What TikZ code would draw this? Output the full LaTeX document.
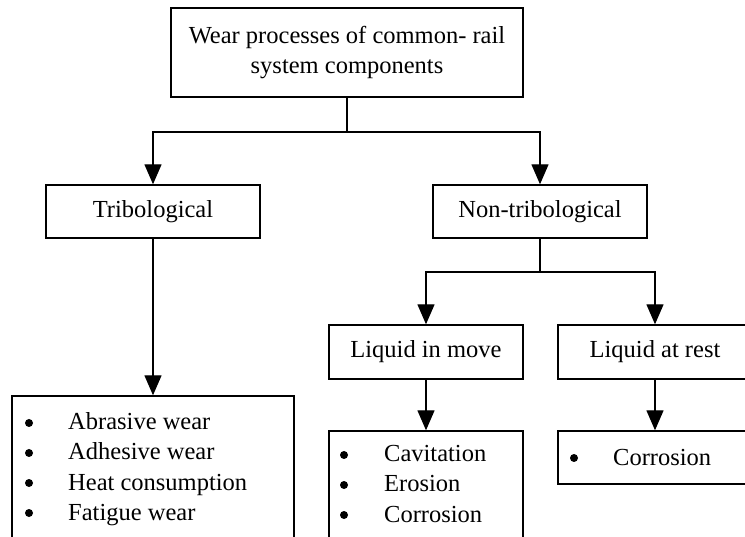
\documentclass[tikz,border=0pt]{standalone}
\usepackage{fontspec}
\setmainfont{Liberation Serif}
\usetikzlibrary{arrows.meta}
\begin{document}
\begin{tikzpicture}[x=1pt,y=-1pt,
  box/.style={draw,line width=1.4pt,rectangle,inner sep=0pt,font=\fontsize{24.5}{29.5}\selectfont,align=center},
  itm/.style={anchor=base west,inner sep=0pt,font=\fontsize{24.5}{29.5}\selectfont},
  bul/.style={circle,fill=black,inner sep=0pt,minimum size=8pt},
  arr/.style={line width=1.4pt,-{Triangle[length=20pt,width=17pt]}},
  ln/.style={line width=1.4pt}]
\useasboundingbox (0,0) rectangle (745,537);
\node[box,minimum width=352pt,minimum height=89pt] (top) at (347,52.5) {Wear processes of common- rail\\system components};
\node[box,minimum width=214pt,minimum height=53pt] (trib) at (153,211.5) {Tribological};
\node[box,minimum width=214pt,minimum height=53pt] (non) at (540,211.5) {Non-tribological};
\node[box,minimum width=282pt,minimum height=149pt] (l1) at (153,470.5) {};
\node[box,minimum width=194pt,minimum height=54pt] (lim) at (426,352) {Liquid in move};
\node[box,minimum width=194pt,minimum height=54pt] (lar) at (655,352) {Liquid at rest};
\node[box,minimum width=194pt,minimum height=114pt] (l2) at (426,488) {};
\node[box,minimum width=194pt,minimum height=53pt] (l3) at (655,457.5) {};
% list items
\node[bul] (b1) at (29,423) {};
\node[itm] (t1) at (68,430) {Abrasive wear};
\node[bul] (b2) at (29,453) {};
\node[itm] (t2) at (68,460) {Adhesive wear};
\node[bul] (b3) at (29,483) {};
\node[itm] (t3) at (68,490) {Heat consumption};
\node[bul] (b4) at (29,513) {};
\node[itm] (t4) at (68,520) {Fatigue wear};
\node[bul] (c1) at (344,455) {};
\node[itm] (d1) at (384,462) {Cavitation};
\node[bul] (c2) at (344,485) {};
\node[itm] (d2) at (384,492) {Erosion};
\node[bul] (c3) at (344,515) {};
\node[itm] (d3) at (384,522) {Corrosion};
\node[bul] (e1) at (574,458) {};
\node[itm] (f1) at (613,465) {Corrosion};
% connectors
\coordinate (j1) at (347,132);
\coordinate (j2) at (540,272);
\draw[ln] (top.south) -- (j1);
\draw[arr] (j1) -| (trib.north);
\draw[arr] (j1) -| (non.north);
\draw[arr] (trib.south) -- (l1.north);
\draw[ln] (non.south) -- (j2);
\draw[arr] (j2) -| (lim.north);
\draw[arr] (j2) -| (lar.north);
\draw[arr] (lim.south) -- (l2.north);
\draw[arr] (lar.south) -- (l3.north);
\end{tikzpicture}
\end{document}
